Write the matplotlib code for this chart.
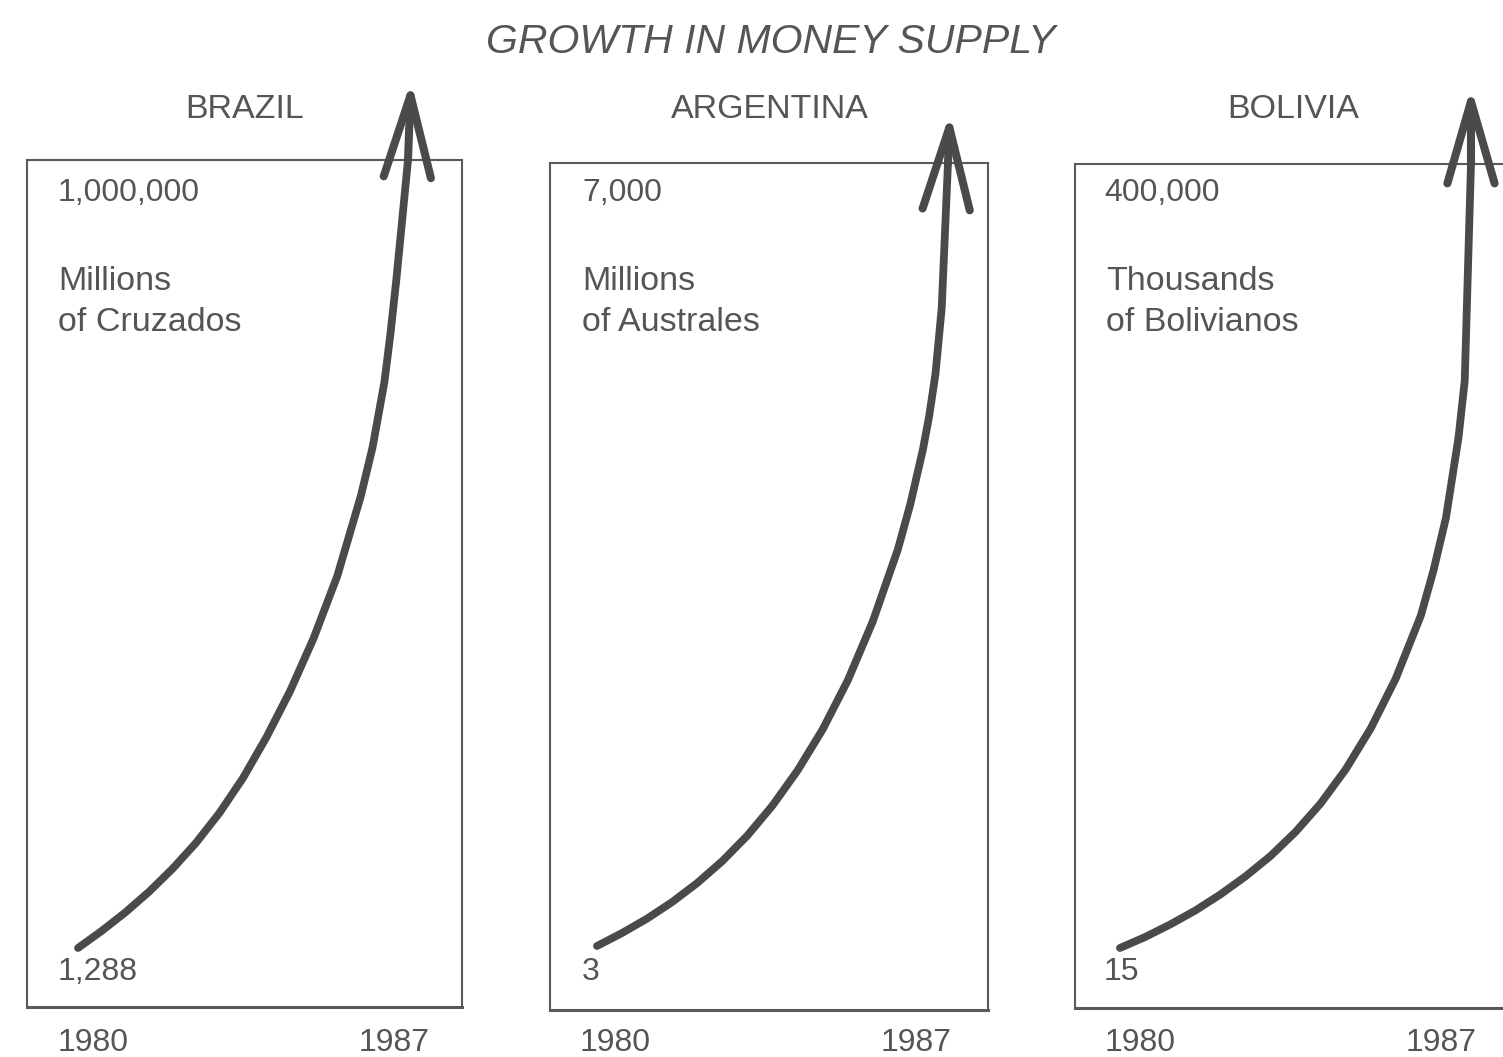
import matplotlib.pyplot as plt

# readings taken off the drawn curves (half-year steps, denser near the top)
years = [1980, 1980.5, 1981, 1981.5, 1982, 1982.5, 1983, 1983.5, 1984,
         1984.5, 1985, 1985.5, 1986, 1986.25, 1986.5, 1986.625, 1986.75,
         1986.875, 1987]

brazil = [1288, 22800, 46200, 72200, 101400, 134300, 172400, 216700, 268700,
          327000, 394200, 472700, 574100, 636200, 718600, 778200, 846600,
          922700, 1000000]
argentina = [3, 119, 248, 396, 566, 762, 990, 1258, 1571,
             1938, 2375, 2903, 3546, 3953, 4440, 4739, 5114,
             5704, 7000]
bolivia = [15, 5600, 12000, 19100, 27300, 36500, 46900, 59200, 73700,
           91100, 112000, 137500, 169600, 192400, 219400, 239800, 260200,
           289300, 400000]

countries = ["BRAZIL", "ARGENTINA", "BOLIVIA"]
units = ["Millions\nof Cruzados", "Millions\nof Australes", "Thousands\nof Bolivianos"]
top_labels = ["1,000,000", "7,000", "400,000"]
bottom_labels = ["1,288", "3", "15"]
year_labels = ["1980", "1987"]

W, H = 1503, 1057
fig = plt.figure(figsize=(W / 100, H / 100), dpi=100)
plt.rcParams['font.family'] = ['Liberation Sans', 'DejaVu Sans']

grey = '#555555'
ink = '#4a4a4a'

# panel boxes in pixels: left, top, right, bottom
boxes = [(27, 160, 462, 1007), (550, 163, 988, 1010), (1075, 164, 1512, 1008)]
xlims = [(1978.918, 1988.146), (1979.063, 1987.798), (1979.103, 1987.818)]
ymins = [-73500, -569, -30600]
tips = [(2.2, 57), (1.4, 36), (0, 55.5)]
text_x = [58, 582, 1104]
unit_x = [58, 582, 1106]
year_x = [(58, 430), (580, 952), (1105, 1477)]
title_x = [245, 770, 1293]
series = [brazil, argentina, bolivia]

for i in range(3):
    l, t, r, b = boxes[i]
    ax = fig.add_axes([l / W, 1 - b / H, (r - l) / W, (b - t) / H])
    vals = series[i]
    ax.plot(years, vals, color=ink, lw=5.6, solid_capstyle='round',
            solid_joinstyle='round')
    ax.annotate('', xy=(years[-1], vals[-1]), xytext=tips[i],
                textcoords='offset points', annotation_clip=False,
                arrowprops=dict(arrowstyle='<-,head_length=5.9,head_width=1.7',
                                mutation_scale=10, lw=5.8, color=ink,
                                shrinkA=0, shrinkB=0))
    ax.set_xlim(*xlims[i])
    ax.set_ylim(ymins[i], vals[-1])
    ax.set_xticks([])
    ax.set_yticks([])
    for s in ax.spines.values():
        s.set_color('#5a5a5a')
        s.set_linewidth(1.5)
    ax.spines['bottom'].set_linewidth(2.2)

    fig.text(title_x[i] / W, 1 - 110 / H, countries[i], ha='center', va='center',
             fontsize=24.5, color=grey)
    fig.text(text_x[i] / W, 1 - 193 / H, top_labels[i], ha='left', va='center',
             fontsize=23, color=grey)
    fig.text(unit_x[i] / W, 1 - 302 / H, units[i], ha='left', va='center',
             fontsize=24.5, color=grey, linespacing=1.4)
    fig.text(text_x[i] / W, 1 - 972 / H, bottom_labels[i], ha='left', va='center',
             fontsize=23, color=grey)
    fig.text(year_x[i][0] / W, 1 - 1043 / H, year_labels[0], ha='left', va='center',
             fontsize=23, color=grey)
    fig.text(year_x[i][1] / W, 1 - 1043 / H, year_labels[1], ha='right', va='center',
             fontsize=23, color=grey)

fig.text(771 / W, 1 - 42 / H, "GROWTH IN MONEY SUPPLY", ha='center', va='center',
         fontsize=29.5, style='italic', color=grey)

fig.savefig('out.png', dpi=100)
